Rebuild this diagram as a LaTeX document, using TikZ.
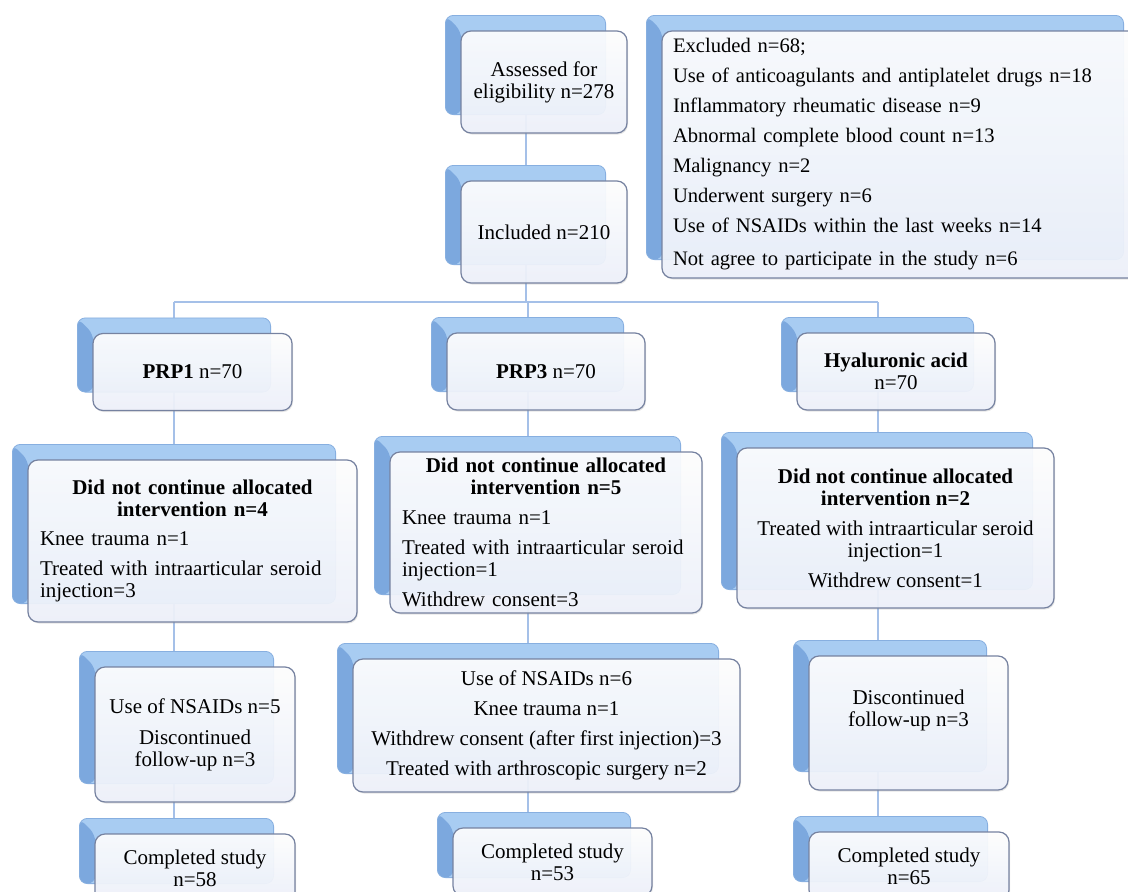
\documentclass[tikz,border=0pt]{standalone}
\usepackage{fontspec}
\setmainfont{Liberation Serif}
\usetikzlibrary{calc,fit,shadows}
\pgfdeclarelayer{conn}
\pgfdeclarelayer{back}
\pgfsetlayers{conn,back,main}
\definecolor{conncol}{RGB}{165,192,232}
\definecolor{backlight}{RGB}{168,204,242}
\definecolor{backdark}{RGB}{124,168,222}
\definecolor{backedge}{RGB}{135,175,224}
\definecolor{frontedge}{RGB}{118,130,160}
\definecolor{frontbot}{RGB}{238,242,251}
\tikzset{
  frontbox/.style={rectangle, rounded corners=10pt, draw=frontedge, line width=1.2pt,
    top color=white, bottom color=frontbot, fill opacity=0.92, text opacity=1,
    drop shadow={shadow xshift=1pt, shadow yshift=-1.5pt, opacity=0.2, fill=gray},
    inner sep=0pt, font=\fontsize{21}{22}\selectfont, align=center},
  backbox/.style={rectangle, rounded corners=8pt, draw=backedge, line width=0.8pt,
    fill=backlight, inner sep=0pt,
    path picture={\fill[backdark] (path picture bounding box.north west)
      -- ($(path picture bounding box.north west)+(16,16)$)
      -- ($(path picture bounding box.south west)+(16,0)$)
      -- (path picture bounding box.south west) -- cycle;}},
  conn/.style={draw=conncol, line width=2pt},
}
\newcommand\backof[1]{\node[backbox, fit={($(#1.north west)+(-15,-15)$) ($(#1.south east)+(-22,-19)$)}] (#1B) {};}
\begin{document}
\begin{tikzpicture}[x=1pt,y=-1pt]
\useasboundingbox (0,0) rectangle (1128,892);
\coordinate (bus) at (0,302);

% front boxes
\node[frontbox, minimum width=166pt, minimum height=102pt] (assess) at (544,82) {Assessed for\\eligibility n=278};
\node[frontbox, minimum width=166pt, minimum height=102pt] (incl) at (544,232) {Included n=210};
\node[frontbox, minimum width=483pt, minimum height=247pt, text width=461pt, align=left,
      font=\fontsize{20.6}{22}\selectfont] (excl) at (903.5,154.5)
  {Excluded n=68;\\[8pt]
   Use of anticoagulants and antiplatelet drugs n=18\\[8pt]
   Inflammatory rheumatic disease n=9\\[8pt]
   Abnormal complete blood count n=13\\[8pt]
   Malignancy n=2\\[8pt]
   Underwent surgery n=6\\[8pt]
   Use of NSAIDs within the last weeks n=14\\[11pt]
   Not agree to participate in the study n=6};

\node[frontbox, minimum width=199pt, minimum height=77pt] (prp1) at (192.5,372) {{\bfseries PRP1} n=70};
\node[frontbox, minimum width=198pt, minimum height=77pt] (prp3) at (546,371.5) {{\bfseries PRP3} n=70};
\node[frontbox, minimum width=198pt, minimum height=77pt] (ha) at (896,371.5) {{\bfseries Hyaluronic acid}\\n=70};

\node[frontbox, minimum width=329pt, minimum height=162pt, text width=305pt, align=left] (dnc1) at (192.5,541)
  {{\centering\bfseries Did not continue allocated\\intervention n=4\par}\vspace{7pt}%
   Knee trauma n=1\\[8pt]Treated with intraarticular seroid\\injection=3};
\node[frontbox, minimum width=312pt, minimum height=161pt, text width=288pt, align=left] (dnc3) at (546,532.5)
  {{\centering\bfseries Did not continue allocated\\intervention n=5\par}\vspace{8pt}%
   Knee trauma n=1\\[8pt]Treated with intraarticular seroid\\injection=1\\[8pt]Withdrew consent=3};
\node[frontbox, minimum width=317pt, minimum height=160pt] (dncH) at (895.5,528)
  {{\bfseries Did not continue allocated}\\{\bfseries intervention n=2}\\[8pt]
   Treated with intraarticular seroid\\injection=1\\[8pt]Withdrew consent=1};

\node[frontbox, minimum width=200pt, minimum height=135pt] (sec1) at (195,734.5)
  {Use of NSAIDs n=5\\[9pt]Discontinued\\follow-up n=3};
\node[frontbox, minimum width=387pt, minimum height=133pt] (sec3) at (546.5,725.5)
  {Use of NSAIDs n=6\\[8pt]Knee trauma n=1\\[8pt]Withdrew consent (after first injection)=3\\[8pt]Treated with arthroscopic surgery n=2};
\node[frontbox, minimum width=199pt, minimum height=134pt] (secH) at (908.5,723)
  {Discontinued\\follow-up n=3\\[8pt]\mbox{}};

\node[frontbox, minimum width=200pt, minimum height=68pt] (comp1) at (195,868) {Completed study\\n=58};
\node[frontbox, minimum width=199pt, minimum height=68pt] (comp3) at (552.5,862) {Completed study\\n=53};
\node[frontbox, minimum width=200pt, minimum height=68pt] (compH) at (909,866) {Completed study\\n=65};

% back boxes
\begin{pgfonlayer}{back}
\backof{assess}\backof{incl}\backof{excl}
\backof{prp1}\backof{prp3}\backof{ha}
\backof{dnc1}\backof{dnc3}\backof{dncH}
\backof{sec1}\backof{sec3}\backof{secH}
\backof{comp1}\backof{comp3}\backof{compH}
\end{pgfonlayer}

% connectors
\begin{pgfonlayer}{conn}
\fill[white] (0,0) rectangle (1128,892);
\draw[conn] (assessB.center) -- (assessB.center |- inclB.center);
\draw[conn] (inclB.center) -- (inclB.center |- bus);
\draw[conn] (prp1B.center |- bus) -- (haB.center |- bus);
\draw[conn] (prp1B.center |- bus) -- (prp1B.center |- comp1B.center);
\draw[conn] (prp3B.center |- bus) -- (prp3B.center |- comp3B.center);
\draw[conn] (haB.center |- bus) -- (haB.center |- compHB.center);
\end{pgfonlayer}
\end{tikzpicture}
\end{document}
